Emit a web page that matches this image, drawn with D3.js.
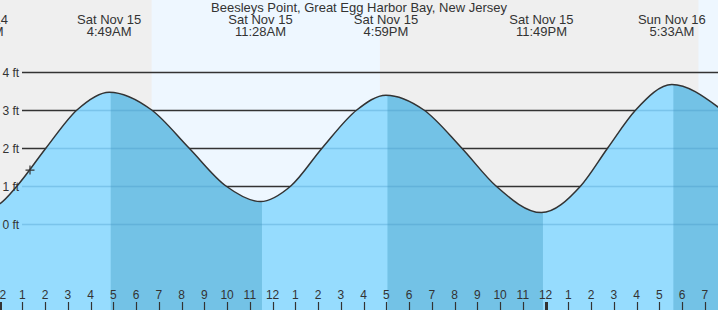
<!DOCTYPE html>
<html>
<head>
<meta charset="utf-8">
<script src="https://cdn.jsdelivr.net/npm/d3@7"></script>
<style>
  html, body { margin: 0; padding: 0; background: #fff; }
  svg { display: block; }
  text { font-family: "Liberation Sans", Arial, sans-serif; fill: #333; }
</style>
</head>
<body>
<svg id="chart" width="718" height="310"></svg>
<script>
// ---------------- data ----------------
const title = "Beesleys Point, Great Egg Harbor Bay, New Jersey";

// tide extremes (hours since Sat Nov 15 00:00)
const eventHours   = [-0.95, 4.817, 11.467, 16.983, 23.817, 29.55];
const eventDays    = ["Fri Nov 14", "Sat Nov 15", "Sat Nov 15", "Sat Nov 15", "Sat Nov 15", "Sun Nov 16"];
const eventTimes   = ["11:03PM", "4:49AM", "11:28AM", "4:59PM", "11:49PM", "5:33AM"];
const eventHeights = [0.35, 3.47, 0.59, 3.39, 0.30, 3.67];

// tide curve points (hours, ft)
const curveHours = [-0.95, 0, 0.765, 2.04, 3.40, 4.817, 6.686, 8.325, 9.95, 11.467,
                    12.80, 14.18, 15.70, 16.983, 18.65, 20.31, 21.82, 23.817,
                    25.54, 26.73, 27.96, 29.55, 31.6];
const curveFeet  = [0.35, 0.53, 1.0, 2.0, 3.0, 3.47, 3.0, 2.0, 1.0, 0.59,
                    1.0, 2.0, 3.0, 3.39, 3.0, 2.0, 1.0, 0.30,
                    1.0, 2.0, 3.0, 3.67, 3.07];

// daylight
const sunriseHours = [6.683, 30.717];
const sunsetHours  = [16.717];

// current-time marker
const nowHour = 1.336;
const nowFeet = 1.42;

// axes
const feetTicks  = [0, 1, 2, 3, 4];
const feetLabels = ["0 ft", "1 ft", "2 ft", "3 ft", "4 ft"];
const hourTicks  = [0,1,2,3,4,5,6,7,8,9,10,11,12,13,14,15,16,17,18,19,20,21,22,23,24,25,26,27,28,29,30,31];
const hourLabels = ["12","1","2","3","4","5","6","7","8","9","10","11","12","1","2","3","4","5","6","7","8","9","10","11","12","1","2","3","4","5","6","7"];
const midnightHours = [0, 24];

// ---------------- drawing ----------------
const W = 718, H = 310;
const svg = d3.select("#chart");

const x = d3.scaleLinear().domain([0, 31.578]).range([-0.4, 718]);
const y = d3.scaleLinear().domain([0, 4]).range([224, 72]);

// background: night / day
const dayIntervals = [[sunriseHours[0], sunsetHours[0]], [sunriseHours[1], 40]];
svg.append("rect").attr("x", 0).attr("y", 0).attr("width", W).attr("height", H).attr("fill", "#efefef");
svg.selectAll("rect.day").data(dayIntervals).enter().append("rect")
  .attr("class", "day")
  .attr("x", d => x(d[0]))
  .attr("y", 0)
  .attr("width", d => Math.min(W, x(d[1])) - x(d[0]))
  .attr("height", H)
  .attr("fill", "#eef7ff");

// dark grid lines behind the water
svg.selectAll("line.grid").data(feetTicks).enter().append("line")
  .attr("class", "grid")
  .attr("x1", 22).attr("x2", W)
  .attr("y1", d => Math.round(y(d)) + 0.5).attr("y2", d => Math.round(y(d)) + 0.5)
  .attr("stroke", "#333").attr("stroke-width", 1.4);

// tide area
const pts = curveHours.map((h, i) => [h, curveFeet[i]]);
const area = d3.area()
  .x(d => x(d[0]))
  .y0(H)
  .y1(d => y(d[1]))
  .curve(d3.curveMonotoneX);
const line = d3.line()
  .x(d => x(d[0]))
  .y(d => y(d[1]))
  .curve(d3.curveMonotoneX);

svg.append("clipPath").attr("id", "water")
  .append("path").attr("d", area(pts));

const waterG = svg.append("g").attr("clip-path", "url(#water)");
waterG.append("rect").attr("x", 0).attr("y", 0).attr("width", W).attr("height", H).attr("fill", "#96dcfe");

// falling-tide bands darker
const bands = [];
for (let i = 0; i < eventHours.length; i++) {
  const start = eventHours[i];
  const end = i + 1 < eventHours.length ? eventHours[i + 1] : 40;
  const next = i + 1 < eventHeights.length ? eventHeights[i + 1] : -Infinity;
  if (eventHeights[i] > next) bands.push([start, end]);
}
waterG.selectAll("rect.band").data(bands).enter().append("rect")
  .attr("class", "band")
  .attr("x", d => x(d[0]) + 1.5)
  .attr("y", 0)
  .attr("width", d => Math.min(W + 10, x(d[1])) - x(d[0]))
  .attr("height", H)
  .attr("fill", "#73c2e6");

// faint grid lines over water
waterG.selectAll("line.fgrid").data(feetTicks).enter().append("line")
  .attr("class", "fgrid")
  .attr("x1", 22).attr("x2", W)
  .attr("y1", d => Math.round(y(d)) + 0.5).attr("y2", d => Math.round(y(d)) + 0.5)
  .attr("stroke", "#3a8fbf").attr("stroke-opacity", 0.3).attr("stroke-width", 1.4);

// tide line
svg.append("path").attr("d", line(pts))
  .attr("fill", "none").attr("stroke", "#333").attr("stroke-width", 1.5);

// y labels
svg.selectAll("text.ylab").data(feetTicks).enter().append("text")
  .attr("class", "ylab")
  .attr("x", 2.5)
  .attr("y", d => y(d) + 4.5)
  .attr("font-size", 12)
  .text((d, i) => feetLabels[i]);

// hour ticks & labels
svg.selectAll("line.tick").data(hourTicks).enter().append("line")
  .attr("class", "tick")
  .attr("x1", d => Math.round(x(d)) + 0.5).attr("x2", d => Math.round(x(d)) + 0.5)
  .attr("y1", 302).attr("y2", H)
  .attr("stroke", "#333")
  .attr("stroke-width", d => midnightHours.includes(d) ? 3 : 1.2);

svg.selectAll("text.xlab").data(hourTicks).enter().append("text")
  .attr("class", "xlab")
  .attr("x", d => x(d))
  .attr("y", 299)
  .attr("text-anchor", "middle")
  .attr("font-size", 12)
  .text((d, i) => hourLabels[i]);

// header
svg.append("text").attr("x", 359).attr("y", 12)
  .attr("text-anchor", "middle").attr("font-size", 13).text(title);

const hdr = svg.selectAll("g.evt").data(eventHours).enter().append("g").attr("class", "evt");
hdr.append("text").attr("x", d => x(d)).attr("y", 24)
  .attr("text-anchor", "middle").attr("font-size", 13)
  .text((d, i) => eventDays[i]);
hdr.append("text").attr("x", d => x(d)).attr("y", 36)
  .attr("text-anchor", "middle").attr("font-size", 13)
  .text((d, i) => eventTimes[i]);

// now marker
const mx = x(nowHour), my = y(nowFeet);
svg.append("path")
  .attr("d", `M${mx - 4.5},${my}H${mx + 4.5}M${mx},${my - 4.5}V${my + 4.5}`)
  .attr("stroke", "#333").attr("stroke-width", 1.2).attr("fill", "none");
</script>
</body>
</html>
